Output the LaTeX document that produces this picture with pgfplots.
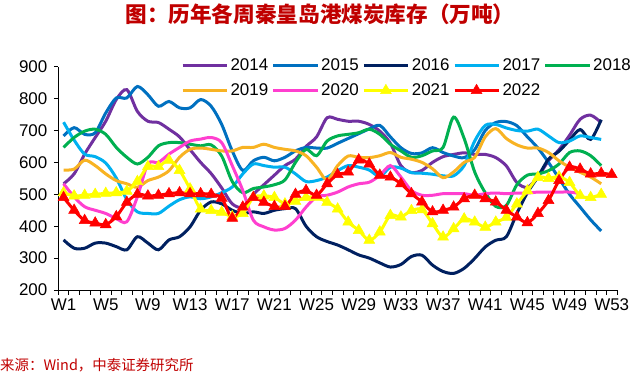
\documentclass[border=0pt]{standalone}
\usepackage{pgfplots}
\pgfplotsset{compat=1.18}
\usepackage{fontspec}
\setmainfont{Liberation Sans}
\newfontfamily\cjk{Noto Sans CJK SC}
\definecolor{c14}{HTML}{7030A0}
\definecolor{c15}{HTML}{0070C0}
\definecolor{c16}{HTML}{002060}
\definecolor{c17}{HTML}{00B0F0}
\definecolor{c18}{HTML}{00B050}
\definecolor{c19}{HTML}{F8B323}
\definecolor{c20}{HTML}{FF3FCF}
\definecolor{c21}{HTML}{FFFF00}
\definecolor{c22}{HTML}{FF0000}
\definecolor{titlered}{HTML}{C00000}
\begin{document}
\begin{tikzpicture}[x=1bp,y=1bp]
\useasboundingbox (0,0) rectangle (640,376);
\begin{axis}[
  at={(58.3bp,86bp)}, anchor=south west, scale only axis,
  width=558.7bp, height=223.3bp,
  xmin=0.5, xmax=53.5, ymin=200, ymax=900,
  axis x line*=bottom, axis y line*=left,
  axis line style={-, line width=0.9bp, black},
  xtick={0.5,1.5,...,53.5}, xticklabels={},
  extra x ticks={1,5,...,53},
  extra x tick labels={W1,W5,W9,W13,W17,W21,W25,W29,W33,W37,W41,W45,W49,W53},
  extra x tick style={major tick length=0pt, xticklabel style={yshift=-5bp}},
  ytick={200,300,...,900},
  major tick length=4.5bp,
  xtick align=outside, ytick align=outside,
  tick style={black, line width=0.8bp},
  ticklabel style={font=\fontsize{17}{17}\selectfont},
  yticklabel style={xshift=-3bp},
  /pgf/number format/assume math mode=true,
  every axis plot/.append style={line width=3bp, smooth},
  legend columns=5,
  legend cell align=left,
  legend style={at={(axis description cs:0.214,1.055)}, anchor=north west,
    draw=none, fill=none, font=\fontsize{17}{17}\selectfont,
    /tikz/every even column/.append style={column sep=1.5bp},
    /tikz/every odd column/.append style={column sep=0.5bp},
    row sep=8bp},
  legend image code/.code={\draw[mark repeat=2,mark phase=2,#1] plot coordinates {(0bp,0bp) (22bp,0bp) (44bp,0bp)};},
]
% 2014
\addplot[c14, no marks] coordinates {(1,533)(2,564)(3,626)(4,678)(5,729)(6,797)(7,828)(8,760)(9,729)(10,725)(11,704)(12,680)(13,640)(14,600)(15,565)(16,520)(17,470)(18,460)(19,500)(20,530)(21,560)(22,590)(23,610)(24,650)(25,680)(26,740)(27,735)(28,729)(29,729)(30,719)(31,698)(32,660)(33,590)(34,568)(35,575)(36,600)(37,618)(38,625)(39,630)(40,625)(41,625)(42,615)(43,589)(44,537)(45,522)(46,555)(47,605)(48,640)(49,685)(50,735)(51,748)(52,725)};
\addlegendentry{2014}
% 2015
\addplot[c15, no marks] coordinates {(1,683)(2,709)(3,688)(4,693)(5,755)(6,802)(7,802)(8,838)(9,812)(10,776)(11,791)(12,771)(13,771)(14,797)(15,776)(16,719)(17,636)(18,575)(19,605)(20,616)(21,605)(22,616)(23,636)(24,647)(25,645)(26,645)(27,660)(28,675)(29,690)(30,705)(31,716)(32,680)(33,646)(34,628)(35,630)(36,646)(37,631)(38,620)(39,615)(40,640)(41,700)(42,725)(43,728)(44,715)(45,680)(46,645)(47,600)(48,550)(49,500)(50,460)(51,420)(52,385)};
\addlegendentry{2015}
% 2016
\addplot[c16, no marks] coordinates {(1,357)(2,331)(3,331)(4,347)(5,347)(6,336)(7,326)(8,367)(9,347)(10,326)(11,357)(12,367)(13,398)(14,450)(15,476)(16,470)(17,450)(18,440)(19,445)(20,440)(21,450)(22,455)(23,455)(24,400)(25,367)(26,352)(27,341)(28,326)(29,310)(30,300)(31,285)(32,272)(33,280)(34,305)(35,309)(36,278)(37,258)(38,252)(39,268)(40,299)(41,335)(42,356)(43,367)(44,440)(45,505)(46,555)(47,610)(48,635)(49,670)(50,703)(51,672)(52,734)};
\addlegendentry{2016}
% 2017
\addplot[c17, no marks] coordinates {(1,726)(2,670)(3,626)(4,618)(5,598)(6,551)(7,483)(8,445)(9,440)(10,440)(11,463)(12,483)(13,492)(14,486)(15,492)(16,505)(17,523)(18,564)(19,595)(20,590)(21,585)(22,585)(23,564)(24,540)(25,543)(26,554)(27,574)(28,590)(29,585)(30,576)(31,556)(32,585)(33,582)(34,568)(35,566)(36,563)(37,558)(38,558)(39,590)(40,667)(41,716)(42,719)(43,708)(44,700)(45,698)(46,704)(47,683)(48,662)(49,667)(50,683)(51,678)(52,672)};
\addlegendentry{2017}
% 2018
\addplot[c18, no marks] coordinates {(1,647)(2,678)(3,698)(4,704)(5,688)(6,647)(7,616)(8,595)(9,616)(10,652)(11,662)(12,662)(13,657)(14,652)(15,655)(16,620)(17,540)(18,505)(19,518)(20,523)(21,530)(22,545)(23,600)(24,641)(25,621)(26,667)(27,683)(28,688)(29,693)(30,704)(31,688)(32,657)(33,636)(34,616)(35,621)(36,636)(37,647)(38,742)(39,675)(40,570)(41,505)(42,462)(43,465)(44,530)(45,560)(46,564)(47,574)(48,595)(49,631)(50,636)(51,621)(52,590)};
\addlegendentry{2018}
% 2019
\addplot[c19, no marks] coordinates {(1,576)(2,579)(3,607)(4,590)(5,564)(6,543)(7,533)(8,522)(9,543)(10,554)(11,574)(12,616)(13,641)(14,645)(15,641)(16,636)(17,636)(18,647)(19,647)(20,657)(21,647)(22,641)(23,636)(24,621)(25,585)(26,545)(27,590)(28,620)(29,616)(30,615)(31,621)(32,631)(33,616)(34,610)(35,600)(36,580)(37,552)(38,570)(39,600)(40,616)(41,680)(42,706)(43,675)(44,655)(45,645)(46,645)(47,631)(48,605)(49,585)(50,569)(51,554)(52,533)};
\addlegendentry{2019}
% 2020
\addplot[c20, no marks] coordinates {(1,533)(2,492)(3,461)(4,450)(5,440)(6,424)(7,414)(8,492)(9,595)(10,600)(11,626)(12,647)(13,667)(14,673)(15,678)(16,662)(17,590)(18,512)(19,419)(20,398)(21,388)(22,393)(23,419)(24,460)(25,492)(26,497)(27,507)(28,523)(29,533)(30,538)(31,559)(32,590)(33,554)(34,512)(35,497)(36,497)(37,502)(38,502)(39,502)(40,497)(41,502)(42,504)(43,502)(44,504)(45,504)(46,507)(47,507)(48,507)(49,507)(50,502)};
\addlegendentry{2020}
% 2021
\addplot[c21, mark=triangle*, mark size=6.3bp, mark options={solid, fill=c21, line width=0.5bp}] coordinates {(1,505)(2,495)(3,497)(4,500)(5,503)(6,505)(7,510)(8,540)(9,587)(10,587)(11,607)(12,575)(13,517)(14,454)(15,449)(16,444)(17,430)(18,440)(19,490)(20,495)(21,490)(22,470)(23,478)(24,490)(25,491)(26,475)(27,454)(28,413)(29,387)(30,356)(31,382)(32,434)(33,429)(34,449)(35,452)(36,408)(37,366)(38,392)(39,423)(40,413)(41,397)(42,413)(43,428)(44,470)(45,511)(46,553)(47,550)(48,555)(49,537)(50,496)(51,490)(52,500)};
\addlegendentry{2021}
% 2022
\addplot[c22, mark=triangle*, mark size=6.3bp, mark options={solid, fill=c22, line width=0.5bp}] coordinates {(1,490)(2,450)(3,418)(4,410)(5,405)(6,430)(7,475)(8,500)(9,495)(10,497)(11,502)(12,505)(13,502)(14,502)(15,500)(16,488)(17,425)(18,460)(19,490)(20,475)(21,462)(22,462)(23,500)(24,512)(25,497)(26,533)(27,562)(28,570)(29,608)(30,595)(31,560)(32,554)(33,533)(34,502)(35,476)(36,445)(37,450)(38,460)(39,486)(40,497)(41,486)(42,476)(43,450)(44,429)(45,411)(46,440)(47,481)(48,543)(49,585)(50,579)(51,564)(52,566)(53,562)};
\addlegendentry{2022}
\end{axis}
\node[font=\cjk\bfseries\fontsize{21.7}{21.7}\selectfont, text=titlered] at (320,362) {图：历年各周秦皇岛港煤炭库存（万吨）};
\node[anchor=west, inner sep=0pt, font=\cjk\fontsize{14.5}{14.5}\selectfont, text=titlered] at (0,11) {来源：Wind，中泰证券研究所};
\end{tikzpicture}
\end{document}
